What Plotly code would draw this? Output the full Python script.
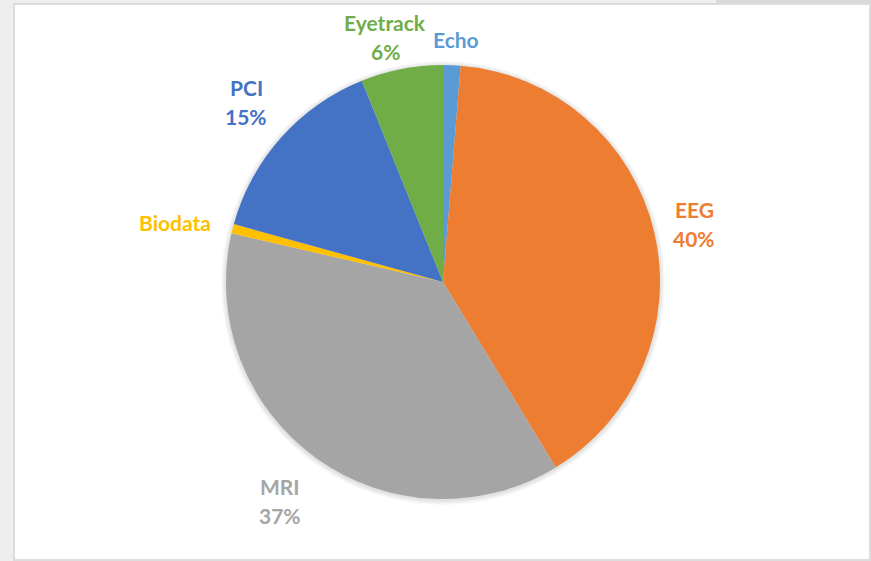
import plotly.graph_objects as go

labels = ["Echo", "EEG", "MRI", "Biodata", "PCI", "Eyetrack"]
values = [1.3, 40.0, 37.3, 0.7, 14.6, 6.1]
name_texts = ["Echo", "EEG", "MRI", "Biodata", "PCI", "Eyetrack"]
pct_texts = ["", "40%", "37%", "", "15%", "6%"]
colors = ["#5B9BD5", "#ED7D31", "#A5A5A5", "#FFC000", "#4472C4", "#70AD47"]

W, H = 871, 561
# label centres in pixels (layout only)
label_pos = [(456, 40), (694, 224), (280, 501), (175, 223), (246, 102), (385, 37)]
line_gap = 29

cx, cy, r = 443, 282, 217

fig = go.Figure()
fig.add_trace(go.Pie(
    labels=labels, values=values, sort=False, direction="clockwise", rotation=0,
    marker=dict(colors=colors, line=dict(width=0)),
    textinfo="none", hoverinfo="label+percent", showlegend=False,
    domain=dict(x=[(cx - r) / W, (cx + r) / W], y=[1 - (cy + r) / H, 1 - (cy - r) / H]),
))

shapes = [
    dict(type="rect", xref="paper", yref="paper", x0=14 / W, x1=870 / W, y0=1 - 560 / H, y1=1 - 4 / H,
         fillcolor="#ffffff", line=dict(color="#dcdcdc", width=2), layer="below"),
    dict(type="rect", xref="paper", yref="paper", x0=716 / W, x1=1, y0=1 - 3 / H, y1=1,
         fillcolor="#d9d9d9", line=dict(width=0), layer="below"),
]
# soft shadow around the pie
for k in range(1, 6):
    rr = r + k
    shapes.append(dict(type="circle", xref="paper", yref="paper",
                       x0=(cx - rr) / W, x1=(cx + rr) / W,
                       y0=1 - (cy + rr + 1) / H, y1=1 - (cy - rr + 1) / H,
                       fillcolor="rgba(0,0,0,0.025)", line=dict(width=0), layer="below"))

annotations = []
for nm, pc, c, (px, py) in zip(name_texts, pct_texts, colors, label_pos):
    lines = [nm] if not pc else [nm, pc]
    n = len(lines)
    for i, t in enumerate(lines):
        yy = py + (i - (n - 1) / 2) * line_gap
        annotations.append(dict(
            text=t, x=px / W, y=1 - yy / H, xref="paper", yref="paper",
            xanchor="center", yanchor="middle", showarrow=False, align="center",
            font=dict(family="Lato", size=21, color=c, weight="bold"),
        ))

fig.update_layout(
    width=W, height=H, margin=dict(l=0, r=0, t=0, b=0),
    paper_bgcolor="#eeeeee", plot_bgcolor="#ffffff",
    shapes=shapes, annotations=annotations,
)
fig.write_html("out.html", config={"displayModeBar": False},
               post_script="document.body.style.margin='0';")
